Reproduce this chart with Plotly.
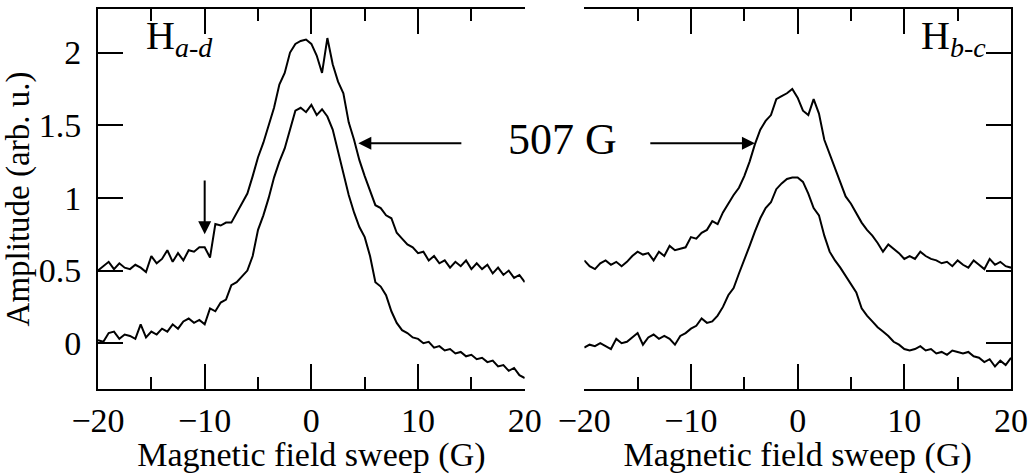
import numpy as np
import plotly.graph_objects as go

# --- Field sweep grid (G), 0.5 G steps ---
field = np.linspace(-20, 20, 81)

# --- H a-d spectra ---
had_upper = [0.50, 0.53, 0.56, 0.51, 0.55, 0.52, 0.51, 0.54, 0.52, 0.49,
             0.60, 0.55, 0.58, 0.64, 0.56, 0.62, 0.57, 0.64, 0.63, 0.66,
             0.66, 0.59, 0.82, 0.81, 0.83, 0.83, 0.90, 0.97, 1.03, 1.15,
             1.28, 1.38, 1.50, 1.62, 1.78, 1.86, 2.00, 2.06, 2.08, 2.09,
             2.06, 1.98, 1.86, 2.10, 1.92, 1.80, 1.72, 1.52, 1.40, 1.26,
             1.15, 1.05, 0.95, 0.93, 0.88, 0.86, 0.76, 0.72, 0.68, 0.66,
             0.62, 0.63, 0.57, 0.60, 0.55, 0.57, 0.52, 0.56, 0.53, 0.57,
             0.51, 0.55, 0.51, 0.54, 0.48, 0.52, 0.47, 0.50, 0.45, 0.47,
             0.42]
had_lower = [0.02, 0.01, 0.07, 0.08, 0.03, 0.06, 0.05, 0.03, 0.13, 0.04,
             0.08, 0.06, 0.10, 0.08, 0.13, 0.10, 0.15, 0.17, 0.14, 0.16,
             0.13, 0.24, 0.22, 0.28, 0.30, 0.40, 0.42, 0.46, 0.50, 0.60,
             0.78, 0.88, 1.00, 1.14, 1.25, 1.34, 1.48, 1.60, 1.62, 1.59,
             1.64, 1.57, 1.61, 1.56, 1.47, 1.32, 1.18, 1.02, 0.90, 0.80,
             0.73, 0.60, 0.42, 0.39, 0.33, 0.22, 0.14, 0.09, 0.07, 0.04,
             0.03, 0.00, 0.01, -0.03, -0.02, -0.05, -0.04, -0.07, -0.06, -0.09,
             -0.08, -0.11, -0.10, -0.13, -0.12, -0.16, -0.15, -0.19, -0.17, -0.22,
             -0.24]

# --- H b-c spectra ---
hbc_upper = [0.57, 0.53, 0.51, 0.55, 0.57, 0.54, 0.56, 0.53, 0.56, 0.60,
             0.63, 0.61, 0.62, 0.57, 0.63, 0.60, 0.67, 0.64, 0.65, 0.66,
             0.73, 0.72, 0.76, 0.78, 0.84, 0.82, 0.90, 0.96, 1.02, 1.07,
             1.15, 1.25, 1.37, 1.47, 1.53, 1.57, 1.68, 1.70, 1.72, 1.75,
             1.69, 1.60, 1.57, 1.68, 1.58, 1.40, 1.30, 1.21, 1.10, 1.01,
             0.96, 0.90, 0.83, 0.78, 0.74, 0.69, 0.63, 0.68, 0.65, 0.62,
             0.58, 0.60, 0.58, 0.63, 0.60, 0.58, 0.57, 0.55, 0.56, 0.53,
             0.57, 0.54, 0.52, 0.57, 0.54, 0.51, 0.58, 0.54, 0.56, 0.53,
             0.52]
hbc_lower = [-0.03, -0.01, -0.02, 0.00, -0.02, -0.04, 0.03, 0.00, 0.01, 0.04,
             0.07, -0.01, 0.04, 0.06, 0.03, 0.05, 0.03, -0.01, 0.05, 0.07,
             0.10, 0.12, 0.17, 0.14, 0.15, 0.19, 0.25, 0.33, 0.38, 0.48,
             0.57, 0.67, 0.77, 0.86, 0.93, 0.97, 1.06, 1.10, 1.13, 1.14,
             1.14, 1.11, 1.03, 0.93, 0.88, 0.74, 0.63, 0.57, 0.52, 0.46,
             0.41, 0.35, 0.24, 0.19, 0.15, 0.11, 0.08, 0.05, 0.01, -0.01,
             -0.04, -0.05, -0.04, -0.02, -0.05, -0.04, -0.07, -0.06, -0.08, -0.05,
             -0.06, -0.07, -0.06, -0.09, -0.10, -0.13, -0.11, -0.16, -0.12, -0.15,
             -0.10]

y_ticks = [0, 0.5, 1, 1.5, 2]
x_ticks = [-20, -10, 0, 10, 20]

FONT = "Liberation Serif, Times New Roman, serif"
line_style = dict(color="black", width=2)

fig = go.Figure()
for ys in (had_upper, had_lower):
    fig.add_trace(go.Scatter(x=field, y=ys, mode="lines", line=line_style,
                             xaxis="x", yaxis="y", showlegend=False))
for ys in (hbc_upper, hbc_lower):
    fig.add_trace(go.Scatter(x=field, y=ys, mode="lines", line=line_style,
                             xaxis="x2", yaxis="y2", showlegend=False))

# --- Axes ---
xcommon = dict(range=[-20, 20], tickvals=x_ticks, ticks="inside", ticklen=25,
               tickwidth=2, tickcolor="black", showline=True, linewidth=2,
               linecolor="black", mirror="ticks", showgrid=False, zeroline=False,
               tickfont=dict(family=FONT, size=34, color="black"),
               minor=dict(dtick=5, tick0=0, ticks="inside", ticklen=12,
                          tickwidth=2, tickcolor="black"),
               title=dict(text="Magnetic field sweep (G)",
                          font=dict(family=FONT, size=34, color="black"),
                          standoff=2))
ycommon = dict(range=[-0.315, 2.30], tickvals=y_ticks, ticks="inside", ticklen=25,
               tickwidth=2, tickcolor="black", showline=True, linewidth=2,
               linecolor="black", showgrid=False, zeroline=False)

fig.update_layout(
    width=1035, height=474,
    margin=dict(l=98, r=17, t=7, b=85),
    font=dict(family=FONT, size=34, color="black"),
    plot_bgcolor="white", paper_bgcolor="white",
    xaxis=dict(domain=[0, 0.4674], anchor="y", **xcommon),
    xaxis2=dict(domain=[0.5326, 1], anchor="y2", **xcommon),
    yaxis=dict(anchor="x", ticklabelstandoff=8,
               tickfont=dict(family=FONT, size=34, color="black"),
               title=dict(text="Amplitude (arb. u.)",
                          font=dict(family=FONT, size=33, color="black"),
                          standoff=6),
               **ycommon),
    yaxis2=dict(anchor="x2", side="right", matches="y", showticklabels=False,
                **ycommon),
)

# --- Labels and arrows ---
fig.add_annotation(x=-15.7, y=2.1, xref="x", yref="y", xanchor="left",
                   text="H<sub><i>a-d</i></sub>", showarrow=False,
                   font=dict(family=FONT, size=40, color="black"))
fig.add_annotation(x=17.85, y=2.1, xref="x2", yref="y2", xanchor="right",
                   text="H<sub><i>b-c</i></sub>", showarrow=False,
                   font=dict(family=FONT, size=40, color="black"))
fig.add_annotation(x=0.509, y=1.40, xref="paper", yref="y", text="507 G",
                   showarrow=False, font=dict(family=FONT, size=44, color="black"))

arrow = dict(showarrow=True, arrowhead=2, arrowsize=1.3, arrowwidth=2,
             arrowcolor="black", text="")
fig.add_annotation(x=-10, y=0.75, ax=-10, ay=1.13, xref="x", yref="y",
                   axref="x", ayref="y", **arrow)
fig.add_annotation(x=4.4, y=1.377, ax=14.2, ay=1.377, xref="x", yref="y",
                   axref="x", ayref="y", **arrow)
fig.add_annotation(x=-4.0, y=1.377, ax=-13.95, ay=1.377, xref="x2", yref="y2",
                   axref="x2", ayref="y2", **arrow)

# body has a default 8px margin; drop it so the figure sits at the page corner
fig.write_html("out.html", config={"displayModeBar": False},
               post_script="document.body.style.margin='0px';")
